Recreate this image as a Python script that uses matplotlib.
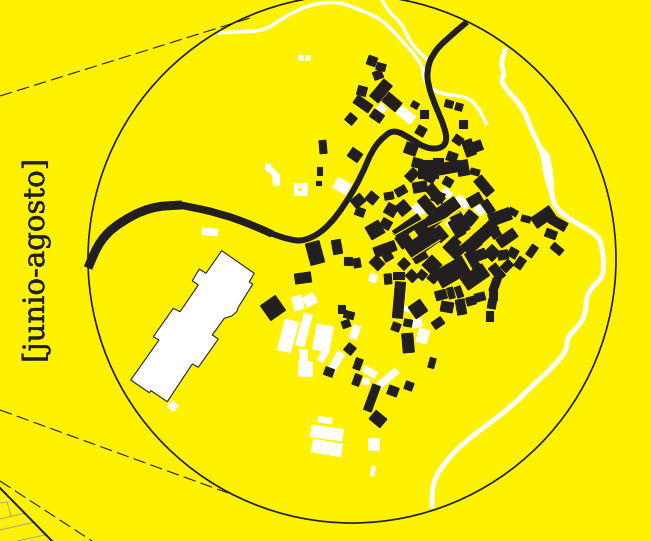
import matplotlib
matplotlib.use("Agg")
import matplotlib.pyplot as plt
import matplotlib.patheffects as pe
from matplotlib.path import Path
from matplotlib.patches import Rectangle, Polygon, Circle, PathPatch

YELLOW = "#fff200"
INK = "#231f20"
GREY = "#a9a78a"
PT = 0.72

LABEL = "[junio-agosto]"

# (cx, cy, length, width, angle clockwise)
dark_buildings = [
    (372,61,9,9,20),(381,67,9,7,15),(378,75,9,8,-20),(381,91,22,11,-50),(362,91,9,9,15),
    (363,104,18,9,35),(392,102,17,11,40),(351,119,9,9,40),(377,116,12,9,35),(415,105,7,6,30),
    (424,114,8,8,0),(421,131,9,9,30),(449,104,8,7,15),(459,107,7,7,15),(463,124,8,8,0),
    (458,140,9,8,35),(411,149,12,11,20),(355,155,12,10,35),(469,148,16,10,70),(478,146,10,8,70),
    (417,163,9,9,15),(428,169,20,18,0),(438,165,14,10,90),(412,175,12,9,-45),(452,157,10,9,20),
    (447,168,26,11,-10),(463,168,15,11,80),(475,172,9,6,15),(484,186,20,10,50),(448,182,9,8,30),
    (420,187,14,10,-10),(430,178,10,8,30),(435,194,20,10,50),(401,191,11,8,-30),(389,196,9,7,-10),
    (358,201,12,10,-40),(372,198,10,10,40),(360,212,9,8,20),(513,212,9,6,30),(526,219,9,6,15),
    (543,217,22,12,-35),(558,223,18,9,30),(551,234,11,8,20),(557,249,12,7,40),(532,251,12,7,-55),
    (513,253,9,9,30),(503,255,10,9,-10),(520,263,11,8,-55),(507,266,11,8,-45),(480,237,40,12,-42),
    (507,238,20,10,-35),(496,234,9,7,-30),(375,230,15,14,-30),(386,224,10,9,30),(391,210,11,11,30),
    (403,208,12,12,-40),(427,205,18,10,50),(438,197,12,10,20),(408,227,30,11,-35),(422,228,14,12,-35),
    (437,217,22,12,-40),(448,208,22,12,-35),(460,223,20,12,60),(457,228,18,10,60),(470,218,12,12,40),
    (475,200,14,10,-30),(488,207,14,8,55),(500,217,22,12,-20),(385,249,22,10,-20),(377,263,12,10,45),
    (388,257,9,7,-30),(404,264,9,9,45),(423,243,35,16,-35),(404,240,13,13,-35),
    (420,257,14,8,-30),(432,265,14,14,45),(440,234,14,10,50),(455,248,18,16,45),(473,261,20,8,60),
    (475,245,12,8,-40),(480,255,12,10,-20),(492,253,12,12,45),(452,272,32,18,-30),(475,277,26,14,-35),
    (497,272,16,9,50),(495,285,14,8,-70),(493,295,8,9,0),(492,304,8,9,10),(489,316,7,10,0),
    (480,297,10,8,-15),(471,301,9,8,-15),(461,307,15,9,80),(441,295,11,9,-15),(447,307,12,10,10),
    (451,293,11,6,75),(459,292,11,6,70),(433,278,9,8,40),(422,275,8,8,40),(412,276,10,9,45),
    (398,275,11,7,0),(388,279,10,7,85),(399,300,36,10,95),(418,309,14,14,-35),(396,327,8,8,20),
    (408,323,8,7,10),(438,323,11,8,-35),(408,343,19,11,85),(432,363,10,6,105),(303,278,16,10,-8),
    (315,253,22,14,75),(337,247,14,9,80),(348,261,8,8,0),(357,263,9,7,80),(273,308,18,18,-35),
    (341,309,7,8,0),(349,315,10,7,15),(346,324,8,7,-20),(350,349,9,9,40),(358,364,11,7,110),
    (357,380,11,7,110),(329,372,9,8,20),(372,398,27,8,110),(378,419,14,11,40),(393,391,10,9,20),
    (409,386,8,8,20),(323,147,13,7,85),(319,171,8,5,90),(318,183,5,4,0),
]

white_buildings = [
    (381,109,9,8,-40),(406,115,18,10,40),(418,210,12,8,50),(447,193,10,7,40),(462,202,14,8,40),
    (480,210,10,8,40),(450,224,7,6,40),(373,278,8,8,20),(407,309,7,5,20),(417,323,10,9,-10),
    (423,336,14,11,105),(342,186,15,12,30),(308,58,5,5,10),(301,58,5,5,10),(298,303,14,10,75),
    (310,300,12,11,-30),(288,336,32,14,105),(304,330,33,9,105),(323,338,26,17,100),(303,355,8,12,0),
    (305,368,14,15,0),(323,356,12,7,-60),(336,362,22,8,-60),(355,332,14,8,110),(210,232,16,7,5),
    (173,406,8,8,45),(370,372,14,7,30),(365,381,7,6,0),(388,378,24,7,-40),(325,420,14,6,10),
    (327,433,32,12,8),(327,448,30,13,10),(373,444,11,12,0),(373,471,10,4,100),
]

lanes = [([395,425],[235,218]),([428,460],[227,212]),([460,485],[245,223]),([412,440],[258,240])]

hospital_x = [221.7,254.3,249.3,252.7,238.3,236.7,231.7,224.3,212.3,218.3,198.3,192.3,167.3,151,149.3,130.7,159,153.3,173.3,180,198.3,192.3,199.3,206]
hospital_y = [250.7,273.3,281.7,284.3,307.3,311.7,316,318.3,335,339,367.3,364,401.7,390.7,392.7,380,340,336.7,308.3,311.7,285,280.7,269,273.3]

annex_x = [265,270,277,280,280,273,272,265]
annex_y = [164,164,172,175,186,186,175,170]

road_thin_x = [467,445,432,427,428,435,445,447,440,425,410,395,385,372,362,345,325,305,290,270]
road_thin_y = [22,40,55,70,85,105,128,142,149,148,138,130,135,150,175,205,230,241,240,233]
road_mid_x = [272,260,220,180]
road_mid_y = [234,228,213,205]
road_wide_x = [182,180,150,120,100,88]
road_wide_y = [205,205,207,222,240,268]

stream_a_x = [217,233,263,277,297,317,340,360,380,400,423,423,430,440,450,467,476,483,487]
stream_a_y = [33,32,31,22,10,3,2,10,18,38,65,78,88,93,95,97,105,116,125]
stream_b_x = [382,387,403,410,430]
stream_b_y = [0,10,25,43,62]
stream_c_x = [506,500,505,500,523,530,543,549,553,563,580,597,602,604,602,592,586,586,580,567,567,553,533,513,490,463,447,435,432,432]
stream_c_y = [48,63,73,83,107,127,153,180,203,215,225,235,245,267,278,287,298,312,325,337,350,367,385,405,423,443,460,477,492,508]
stream_wide_x = [536,550,553,555,553,543,540]
stream_wide_y = [140,155,173,200,207,173,153]

dash_top_x = [0,250]
dash_top_y = [96,18]
dash_low_x = [0,228]
dash_low_y = [410,493]
dash_corner_x = [0,92]
dash_corner_y = [481,541]
edge_x = [0,52]
edge_y = [488,541]
plots = [([0,7,11],[503,502,516]),([0,25],[519,513]),([0,35],[530,522]),([17,45],[541,535])]


def smooth(xs, ys):
    pts = list(zip(xs, ys))
    verts, codes = [pts[0]], [Path.MOVETO]
    for i in range(1, len(pts) - 1):
        mid = ((pts[i][0] + pts[i + 1][0]) / 2, (pts[i][1] + pts[i + 1][1]) / 2)
        verts += [pts[i], mid]
        codes += [Path.CURVE3, Path.CURVE3]
    verts.append(pts[-1]); codes.append(Path.LINETO)
    return Path(verts, codes)


def stroke(ax, xs, ys, color, width):
    ax.add_patch(PathPatch(smooth(xs, ys), fc="none", ec=color, lw=width * PT,
                           joinstyle="round", capstyle="butt"))


plt.rcParams["lines.scale_dashes"] = False
fig = plt.figure(figsize=(6.51,5.41), dpi=100, facecolor=YELLOW)
ax = fig.add_axes([0,0,1,1])
ax.set_xlim(0,651); ax.set_ylim(541,0); ax.axis("off")

for px,py in plots:
    ax.plot(px,py,color=GREY,lw=1*PT)
ax.plot(edge_x,edge_y,color=INK,lw=2*PT)
for dx,dy in [(dash_top_x,dash_top_y),(dash_low_x,dash_low_y),(dash_corner_x,dash_corner_y)]:
    ax.plot(dx,dy,color=INK,lw=1.1*PT,linestyle=(0,(9,3.8)))

stroke(ax,stream_a_x,stream_a_y,"white",3.6)
stroke(ax,stream_b_x,stream_b_y,"white",3.6)
stroke(ax,stream_c_x,stream_c_y,"white",5)
ax.add_patch(Polygon(list(zip(stream_wide_x,stream_wide_y)),fc="white",ec="none"))

for cx,cy,l,w,a in white_buildings:
    ax.add_patch(Rectangle((cx-l/2,cy-w/2),l,w,angle=a,rotation_point="center",fc="white",ec="white",lw=0.4))
ax.add_patch(Polygon(list(zip(annex_x,annex_y)),fc="white",ec="none"))
ax.add_patch(Rectangle((294,182.5),14,13,fc="white",ec="none"))
ax.add_patch(Rectangle((298.5,187.5),3,3,fc=YELLOW,ec="none"))
ax.add_patch(Polygon(list(zip(hospital_x,hospital_y)),fc="white",ec=INK,lw=1.1*PT))

for cx,cy,l,w,a in dark_buildings:
    ax.add_patch(Rectangle((cx-l/2,cy-w/2),l,w,angle=a,rotation_point="center",fc=INK,ec=INK,lw=0.8))
for lx,ly in lanes:
    ax.plot(lx,ly,color=YELLOW,lw=1.1*PT)

stroke(ax,road_thin_x,road_thin_y,INK,6)
stroke(ax,road_mid_x,road_mid_y,INK,7.5)
stroke(ax,road_wide_x,road_wide_y,INK,9)

ax.add_patch(Circle((352,259),264,fill=False,ec=INK,lw=1.7*PT))

ax.text(36,261,LABEL,rotation=90,ha="center",va="center",family="DejaVu Serif",fontsize=21,color=INK,
        path_effects=[pe.withStroke(linewidth=0.3,foreground=INK)])

fig.savefig("out.png",dpi=100,facecolor=YELLOW)
